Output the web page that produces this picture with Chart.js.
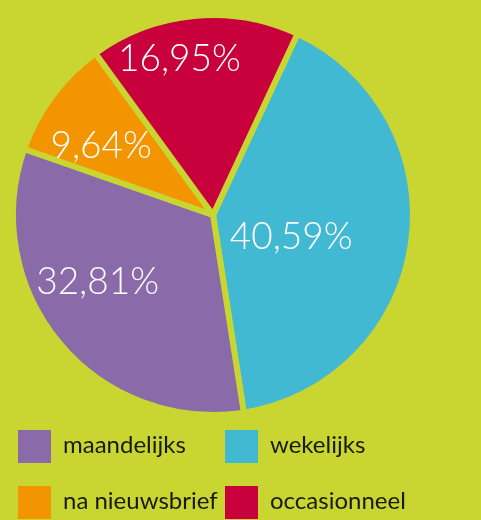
<!DOCTYPE html>
<html>
<head>
<meta charset="utf-8">
<script src="https://cdn.jsdelivr.net/npm/chart.js@4"></script>
<style>
  html, body { margin: 0; padding: 0; background: #c9d632; }
  #wrap { position: relative; width: 481px; height: 520px; overflow: hidden; background: #c9d632; }
  #c { position: absolute; left: 0; top: 0; }
  #legend { position: absolute; left: 18px; top: 430px; width: 463px; font-family: Lato, "Open Sans", sans-serif; font-size: 24px; color: #1a1a0c; }
  .item { position: absolute; display: flex; align-items: center; height: 33px; }
  .sw { width: 33px; height: 33px; margin-right: 12px; flex: none; }
  .lbl { line-height: 33px; position: relative; top: -3px; white-space: nowrap; }
</style>
</head>
<body>
<div id="wrap">
  <canvas id="c" width="481" height="520"></canvas>
  <div id="legend"></div>
</div>
<script>
// ---- data ----
const categories = ["wekelijks", "maandelijks", "na nieuwsbrief", "occasionneel"];
const values = [40.59, 32.81, 9.64, 16.95];
const legendOrder = ["maandelijks", "wekelijks", "na nieuwsbrief", "occasionneel"];

// ---- styles ----
const sliceColors = ["#42b9d3", "#8a6aa9", "#f39500", "#c8003c"];
const bg = "#c9d632";
// label placement per slice: fraction of radius, angle shift in degrees
const labelFrac = [0.405, 0.665, 0.66, 0.805];
const labelShift = [7, 10, -4.6, -6.5];

const fmt = v => v.toFixed(2).replace('.', ',') + '%';

const labelPlugin = {
  id: 'sliceLabels',
  afterDatasetsDraw(chart) {
    const ctx = chart.ctx;
    const meta = chart.getDatasetMeta(0);
    ctx.save();
    const size = 37;
    ctx.font = `300 ${size}px Lato, "Open Sans", sans-serif`;
    ctx.fillStyle = '#ffffff';
    ctx.textAlign = 'center';
    ctx.textBaseline = 'alphabetic';
    meta.data.forEach((arc, i) => {
      const p = arc.getProps(['x', 'y', 'startAngle', 'endAngle', 'outerRadius'], true);
      const mid = (p.startAngle + p.endAngle) / 2 + labelShift[i] * Math.PI / 180;
      const r = p.outerRadius * labelFrac[i];
      const x = p.x + Math.cos(mid) * r;
      const y = p.y + Math.sin(mid) * r;
      ctx.fillText(fmt(chart.data.datasets[0].data[i]), x, y + size * 0.36);
    });
    ctx.restore();
  }
};

const chart = new Chart(document.getElementById('c'), {
  type: 'pie',
  data: {
    labels: categories,
    datasets: [{
      data: values,
      backgroundColor: sliceColors,
      borderColor: bg,
      borderWidth: 6,
      borderAlign: 'center',
      offset: 0
    }]
  },
  options: {
    responsive: false,
    animation: false,
    rotation: 25,
    radius: 200,
    layout: { padding: { left: 13, right: 68, top: 15, bottom: 105 } },
    plugins: {
      legend: { display: false },
      tooltip: { enabled: false }
    }
  },
  plugins: [labelPlugin]
});

// HTML legend built from chart data
const legend = document.getElementById('legend');
legendOrder.forEach((name, k) => {
  const i = chart.data.labels.indexOf(name);
  const item = document.createElement('div');
  item.className = 'item';
  item.style.left = (k % 2 === 0 ? 0 : 207) + 'px';
  item.style.top = (Math.floor(k / 2) * 56) + 'px';
  const sw = document.createElement('div');
  sw.className = 'sw';
  sw.style.background = chart.data.datasets[0].backgroundColor[i];
  const lbl = document.createElement('span');
  lbl.className = 'lbl';
  lbl.textContent = name;
  item.appendChild(sw);
  item.appendChild(lbl);
  legend.appendChild(item);
});
</script>
</body>
</html>
